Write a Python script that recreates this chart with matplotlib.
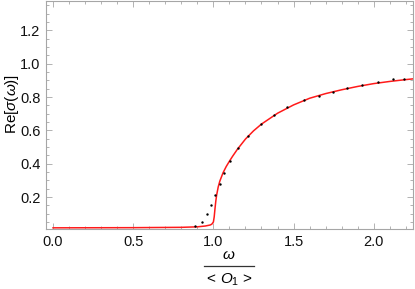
import matplotlib
matplotlib.use("Agg")
import matplotlib.pyplot as plt
from matplotlib.ticker import MultipleLocator, FixedLocator

plt.rcParams['font.family'] = ['Liberation Sans', 'DejaVu Sans']
plt.rcParams['mathtext.fontset'] = 'custom'
plt.rcParams['mathtext.it'] = 'Liberation Sans:italic'
plt.rcParams['mathtext.rm'] = 'Liberation Sans'

# red curve
curve_w = [0.0, 0.5, 0.8, 0.9, 0.95, 0.98, 0.99, 1.0, 1.005, 1.01, 1.015, 1.02,
           1.03, 1.04, 1.06, 1.08, 1.1, 1.12, 1.15, 1.2, 1.25, 1.3, 1.4, 1.5,
           1.6, 1.7, 1.8, 1.9, 2.0, 2.1, 2.2, 2.25]
curve_s = [0.015, 0.016, 0.018, 0.021, 0.026, 0.032, 0.037, 0.05, 0.08, 0.13,
           0.175, 0.21, 0.26, 0.295, 0.345, 0.383, 0.415, 0.445, 0.487, 0.548,
           0.597, 0.638, 0.703, 0.753, 0.793, 0.821, 0.844, 0.864, 0.881,
           0.894, 0.905, 0.91]

# dots
dot_w = [0.883, 0.926, 0.958, 0.984, 1.012, 1.040, 1.065, 1.105, 1.153, 1.219,
         1.296, 1.379, 1.462, 1.566, 1.660, 1.749, 1.836, 1.928, 2.025, 2.121,
         2.191]
dot_s = [0.026, 0.052, 0.098, 0.150, 0.210, 0.276, 0.344, 0.416, 0.495, 0.569,
         0.639, 0.691, 0.741, 0.785, 0.809, 0.833, 0.854, 0.875, 0.889, 0.907,
         0.908]

x_ticks = [0.0, 0.5, 1.0, 1.5, 2.0]
y_ticks = [0.2, 0.4, 0.6, 0.8, 1.0, 1.2]

fig = plt.figure(figsize=(4.15, 2.89), dpi=100)
ax = fig.add_axes([46/415, 1-229/289, 367/415, 228.5/289])

ax.plot(curve_w, curve_s, color='#ff1a1a', lw=1.1, zorder=2)
ax.scatter(dot_w, dot_s, s=3, color='black', zorder=3, linewidths=0)

ax.set_xlim(-0.044, 2.245)
ax.set_ylim(0.008, 1.38)

frame_col = '#a6a6a6'
for sp in ax.spines.values():
    sp.set_color(frame_col)
    sp.set_linewidth(0.8)

ax.xaxis.set_major_locator(FixedLocator(x_ticks))
ax.yaxis.set_major_locator(FixedLocator(y_ticks))
ax.xaxis.set_minor_locator(MultipleLocator(0.1))
ax.yaxis.set_minor_locator(MultipleLocator(0.05))
ax.set_xticklabels(['%.1f' % v for v in x_ticks])
ax.set_yticklabels(['%.1f' % v for v in y_ticks])
ax.tick_params(which='both', direction='in', color=frame_col, top=True, right=True,
               labelsize=10.5, labelcolor='#111111', width=0.6)
ax.tick_params(which='major', length=4, pad=4)
ax.tick_params(which='minor', length=2)

# x label as a stacked fraction
fig.text(229/415, 1-255/289, r'$\omega$', ha='center', va='center', fontsize=11)
fig.add_artist(plt.Line2D([204/415, 254/415], [1-266/289, 1-266/289],
                          color='#333333', lw=0.9, transform=fig.transFigure))
fig.text(229/415, 1-280/289, r'$<\,O_{1}\,>$', ha='center', va='center', fontsize=11)

fig.text(12/415, 1-104/289, r'Re[$\sigma$($\omega$)]', rotation=90,
         ha='center', va='center', fontsize=11)

fig.savefig('out.png', dpi=100)
